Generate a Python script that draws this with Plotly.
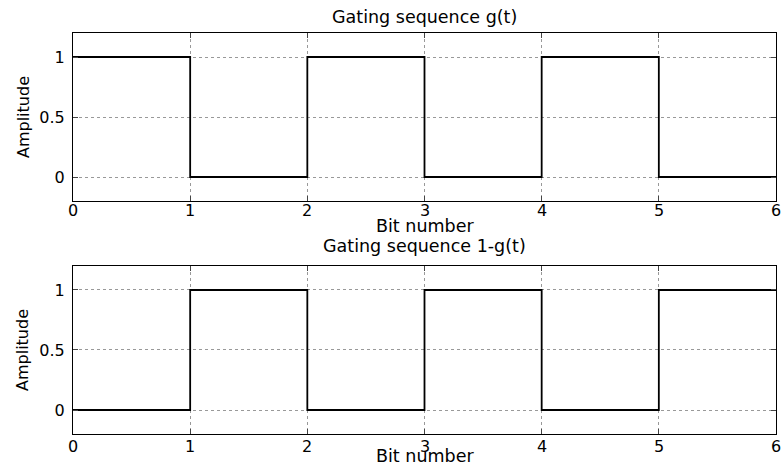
import plotly.graph_objects as go
from plotly.subplots import make_subplots

# bit boundaries and gating values
bits = [0, 1, 2, 3, 4, 5, 6]
g_t = [1, 0, 1, 0, 1, 0, 0]
one_minus_g = [0, 1, 0, 1, 0, 1, 1]

titles = ["Gating sequence g(t)", "Gating sequence 1-g(t)"]
x_label = "Bit number"
y_label = "Amplitude"
x_ticks = [0, 1, 2, 3, 4, 5, 6]
y_ticks = [0, 0.5, 1]
y_tick_text = ["0", "0.5", "1"]

fig = make_subplots(rows=2, cols=1, vertical_spacing=0.162)

for i, vals in enumerate([g_t, one_minus_g]):
    fig.add_trace(go.Scatter(x=bits, y=vals, mode="lines", line_shape="hv",
                             line=dict(color="black", width=1.8),
                             showlegend=False), row=i + 1, col=1)

tick_font = dict(family="DejaVu Sans", size=16, color="black")
label_font = dict(family="DejaVu Sans", size=17.5, color="black")
ylab_font = dict(family="DejaVu Sans", size=16, color="black")
for r in [1, 2]:
    # x tick labels are drawn as annotations below so they sit tight to the axis
    fig.update_xaxes(range=[0, 6], tickvals=x_ticks, ticks="inside", ticklen=5,
                     showline=True, linecolor="black", linewidth=1, mirror="ticks",
                     showgrid=True, gridcolor="#999999", griddash="dot", gridwidth=1,
                     zeroline=False, showticklabels=False,
                     row=r, col=1)
    fig.update_yaxes(range=[-0.2, 1.2], tickvals=y_ticks, ticktext=y_tick_text, ticks="inside", ticklen=5,
                     showline=True, linecolor="black", linewidth=1, mirror="ticks",
                     showgrid=True, gridcolor="#999999", griddash="dot", gridwidth=1,
                     zeroline=False, tickfont=tick_font, ticklabelstandoff=4,
                     row=r, col=1)

fig.update_layout(
    width=784, height=472,
    margin=dict(l=73, r=8, t=33, b=38),
    plot_bgcolor="white", paper_bgcolor="white",
    font=dict(family="DejaVu Sans", size=16, color="black"),
)
fig.update_yaxes(domain=[0.581, 1.0], row=1, col=1)
fig.update_yaxes(domain=[0.0, 0.419], row=2, col=1)

for xref, ybase, ys in [("x", 0.581, 2), ("x2", 0.0, -1)]:
    for t in x_ticks:
        fig.add_annotation(text=str(t), x=t, xref=xref, y=ybase, yref="paper",
                           xanchor="center", yanchor="top", yshift=ys,
                           showarrow=False, font=tick_font)

# titles and axis labels placed like the matlab figure
fig.add_annotation(text=titles[0], x=0.5, xref="paper", y=1.0, yref="paper",
                   yanchor="middle", yshift=16, showarrow=False, font=label_font)
fig.add_annotation(text=x_label, x=0.5, xref="paper", y=0.581, yref="paper",
                   yanchor="middle", yshift=-25, showarrow=False, font=label_font)
fig.add_annotation(text=titles[1], x=0.5, xref="paper", y=0.419, yref="paper",
                   yanchor="middle", yshift=20, showarrow=False, font=label_font)
fig.add_annotation(text=x_label, x=0.5, xref="paper", y=0.0, yref="paper",
                   yanchor="middle", yshift=-22, showarrow=False, font=label_font)
for yc in [0.7905, 0.2095]:
    fig.add_annotation(text=y_label, x=0, xref="paper", y=yc, yref="paper",
                       xanchor="center", yanchor="middle", xshift=-50, textangle=-90,
                       showarrow=False, font=ylab_font)

fig.write_html("out.html", config={"displayModeBar": False},
               post_script="document.body.style.margin='0px';")
